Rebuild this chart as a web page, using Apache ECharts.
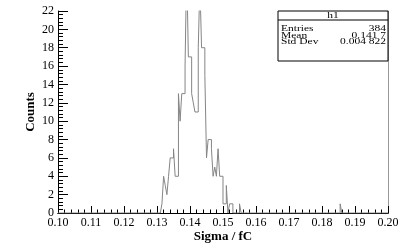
<!DOCTYPE html>
<html>
<head>
<meta charset="utf-8">
<script src="https://cdn.jsdelivr.net/npm/echarts@6/dist/echarts.min.js"></script>
<style>
html,body{margin:0;padding:0;background:#fff;}
#c{width:416px;height:251px;}
</style>
</head>
<body>
<div id="c"></div>
<script>
// ---- data ----
const xMin = 0.10, xMax = 0.20, binWidth = 0.0005;
const yMin = 0, yMax = 22;
const firstBin = 0.1315;
const counts = [1,4,3,2,4,6,6,7,4,4,
                13,10,13,13,16,27,17,17,13,12,11,11,18,25,18,18,15,
                6,8,8,7,4,5,4,7,4,4,
                1,1,3,0,1,1,0,0,0,0,1];
const outlierBins = [0.1855];
const outlierCounts = [1];
const statsName = 'h1';
const statsLabels = ['Entries', 'Mean', 'Std Dev'];
const statsValues = ['384', '0.141 7', '0.004 822'];
const xTitle = 'Sigma / fC';
const yTitle = 'Counts';

// ---- build histogram ----
const nBins = Math.round((xMax - xMin) / binWidth);
const full = new Array(nBins).fill(0);
counts.forEach((c, i) => {
  const idx = Math.round((firstBin - xMin) / binWidth) + i;
  full[idx] += c;
});
outlierBins.forEach((b, i) => {
  const idx = Math.round((b - xMin) / binWidth);
  full[idx] += outlierCounts[i];
});
const pts = [];
for (let i = 0; i < nBins; i++) {
  pts.push([Number((xMin + i * binWidth).toFixed(5)), full[i]]);
}
pts.push([xMax, full[nBins - 1]]);
pts.push([xMax, 0]);

const serif = "'Liberation Serif', 'Times New Roman', serif";
const chart = echarts.init(document.getElementById('c'), null, {renderer: 'canvas'});

const G = {left: 58, right: 28, top: 11, bottom: 38};
const boxL = 278, boxR = 388, boxT = 11, boxB = 61, sep = 20;
const sText = (t, x, y, align) => ({
  type: 'text', x: x, y: y, scaleX: 1.0, scaleY: 0.72, z: 101,
  style: {text: t, fontFamily: serif, fontSize: 11.5, fill: '#000',
          textAlign: align, textVerticalAlign: 'middle'}
});

chart.setOption({
  animation: false,
  backgroundColor: '#fff',
  grid: {left: G.left, right: G.right, top: G.top, bottom: G.bottom},
  xAxis: [{
    type: 'value', min: xMin, max: xMax, interval: 0.01,
    axisLine: {show: true, lineStyle: {color: '#000', width: 1}},
    axisTick: {show: true, inside: true, length: 7, lineStyle: {color: '#000'}},
    minorTick: {show: true, splitNumber: 5, length: 3.5, lineStyle: {color: '#000'}},
    splitLine: {show: false},
    axisLabel: {margin: 4, fontFamily: serif, fontSize: 12, color: '#000',
      formatter: v => v.toFixed(2)},
    name: xTitle, nameLocation: 'middle', nameGap: 17, nameMoveOverlap: false,
    nameTextStyle: {fontFamily: serif, fontSize: 13, fontWeight: 'bold', color: '#000'}
  }, {
    type: 'value', min: xMin, max: xMax, position: 'top',
    axisLine: {show: true, lineStyle: {color: '#000', width: 1}},
    axisTick: {show: false}, axisLabel: {show: false}, splitLine: {show: false}
  }],
  yAxis: [{
    type: 'value', min: yMin, max: yMax, interval: 2,
    axisLine: {show: true, lineStyle: {color: '#000', width: 1}},
    axisTick: {show: true, inside: true, length: 10, lineStyle: {color: '#000'}},
    minorTick: {show: true, splitNumber: 5, length: 5, lineStyle: {color: '#000'}},
    splitLine: {show: false},
    axisLabel: {margin: 4, fontFamily: serif, fontSize: 12, color: '#000'},
    name: yTitle, nameLocation: 'middle', nameGap: 21, nameRotate: 90, nameMoveOverlap: false,
    nameTextStyle: {fontFamily: serif, fontSize: 13, fontWeight: 'bold', color: '#000'}
  }, {
    type: 'value', min: yMin, max: yMax, position: 'right',
    axisLine: {show: true, lineStyle: {color: '#999', width: 1}},
    axisTick: {show: false}, axisLabel: {show: false}, splitLine: {show: false}
  }],
  series: [{
    type: 'line', step: 'end', data: pts, symbol: 'none', clip: true,
    lineStyle: {color: '#858585', width: 1}
  }],
  graphic: [
    {type: 'rect', shape: {x: boxL, y: boxT, width: boxR - boxL, height: boxB - boxT},
     style: {fill: '#fff', stroke: '#000', lineWidth: 1}, z: 100},
    {type: 'line', shape: {x1: boxL, y1: sep, x2: boxR, y2: sep},
     style: {stroke: '#000', lineWidth: 1}, z: 101},
    sText(statsName, (boxL + boxR) / 2, (boxT + sep) / 2 + 0.5, 'center'),
    ...statsLabels.map((t, i) => sText(t, boxL + 3, 29.3 + i * 6.4, 'left')),
    ...statsValues.map((t, i) => sText(t, boxR - 2, 29.3 + i * 6.4, 'right'))
  ]
});
</script>
</body>
</html>
